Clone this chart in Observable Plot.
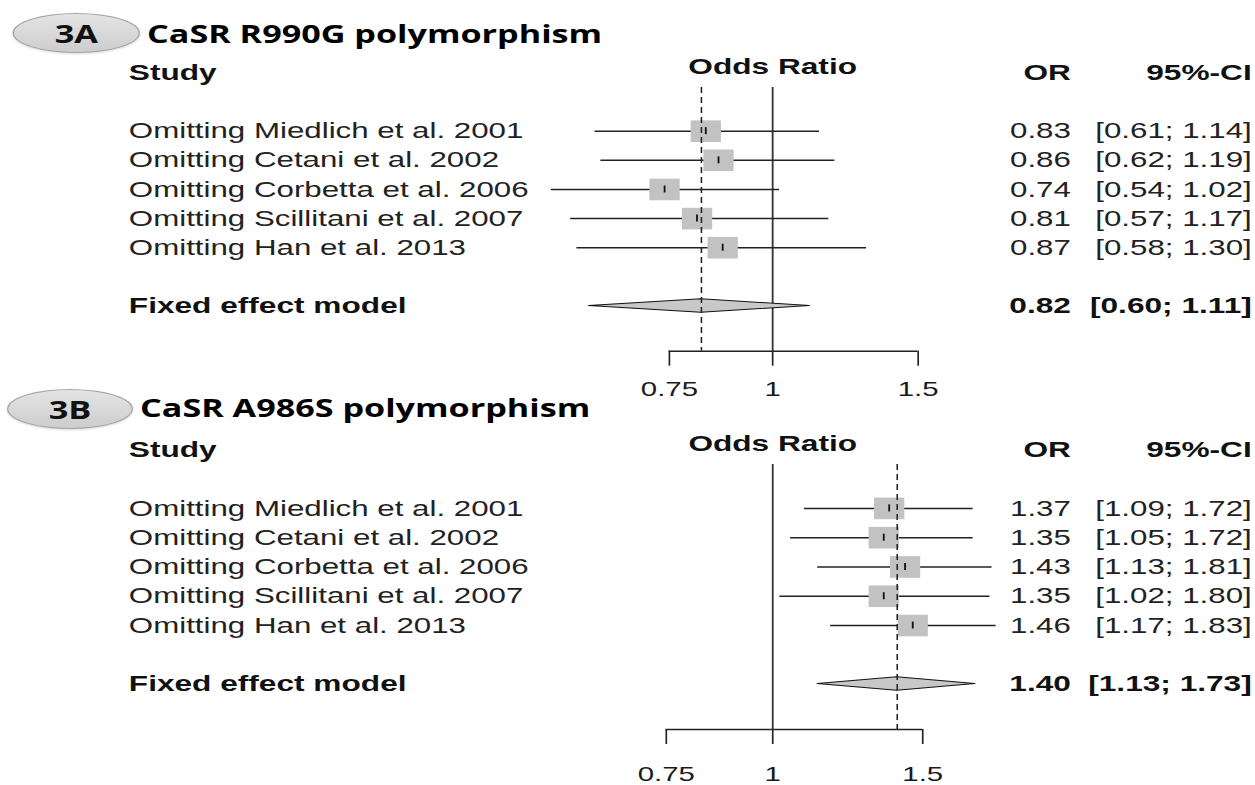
<!DOCTYPE html>
<html>
<head>
<meta charset="utf-8">
<script src="https://cdn.jsdelivr.net/npm/d3@7"></script>
<script src="https://cdn.jsdelivr.net/npm/@observablehq/plot@0.6"></script>
<style>
  html, body { margin: 0; padding: 0; background: #fff; }
  /* the reference picture is stretched horizontally by ~1.4 */
  #stage { position: relative; width: 896.43px; height: 785px; transform: scaleX(1.4); transform-origin: 0 0; overflow: visible; }
  .panel { position: absolute; left: 0; }
  .oval { position: absolute; border-radius: 50%; background: linear-gradient(#e4e4e4, #cdcdcd); border: 1.4px solid #a3a3a3; box-shadow: 0 1px 2px rgba(0,0,0,0.15);
          display: flex; align-items: center; justify-content: center; font-family: "Open Sans", sans-serif; font-weight: 700; font-size: 24.5px; color: #111; box-sizing: border-box; }
  .ttl { position: absolute; font-family: "Open Sans", sans-serif; font-weight: 700; font-size: 24.4px; line-height: 25px; color: #000; white-space: nowrap; }
</style>
</head>
<body>
<div id="stage">
  <div class="oval" style="left:9px; top:13px; width:91px; height:40px;">3A</div>
  <div class="ttl" style="left:105px; top:21px;">CaSR R990G polymorphism</div>
  <div id="panelA" class="panel" style="top:0px;"></div>
  <div class="oval" style="left:5px; top:389px; width:90px; height:40px;">3B</div>
  <div class="ttl" style="left:100px; top:395px;">CaSR A986S polymorphism</div>
  <div id="panelB" class="panel" style="top:400px;"></div>
</div>
<script>
// ---------- data ----------
const studies = [
  "Omitting Miedlich et al. 2001",
  "Omitting Cetani et al. 2002",
  "Omitting Corbetta et al. 2006",
  "Omitting Scillitani et al. 2007",
  "Omitting Han et al. 2013"
];
const fixedLabel = "Fixed effect model";

// 3A: CaSR R990G
const orA = [0.83, 0.86, 0.74, 0.81, 0.87];
const loA = [0.61, 0.62, 0.54, 0.57, 0.58];
const hiA = [1.14, 1.19, 1.02, 1.17, 1.30];
const fixedA = [0.82, 0.60, 1.11]; // OR, lower, upper

// 3B: CaSR A986S
const orB = [1.37, 1.35, 1.43, 1.35, 1.46];
const loB = [1.09, 1.05, 1.13, 1.02, 1.17];
const hiB = [1.72, 1.72, 1.81, 1.80, 1.83];
const fixedB = [1.40, 1.13, 1.73];

const axisTicks = [0.75, 1, 1.5];
const headers = { study: "Study", effect: "Odds Ratio", or: "OR", ci: "95%-CI" };

// ---------- drawing ----------
const W = 1255 / 1.4;
const FONT = "'Liberation Sans', Arial, Helvetica, sans-serif";
const fmt = d => d.toFixed(2);
const ciText = d => `[${fmt(d.lo)}; ${fmt(d.hi)}]`;

function forest({or, lo, hi, fixed, xDomain, height, marginTop, marginBottom, tickPadding}) {
  const rows = studies.map((name, i) => ({name, or: or[i], lo: lo[i], hi: hi[i], row: i + 1}));
  const fx = {name: fixedLabel, or: fixed[0], lo: fixed[1], hi: fixed[2], row: 7};
  const yTop = -0.5, yBot = 8.55, dh = 0.23;
  const diamond = [
    {x: fx.lo, y1: fx.row, y2: fx.row},
    {x: fx.or, y1: fx.row - dh, y2: fx.row + dh},
    {x: fx.hi, y1: fx.row, y2: fx.row}
  ];
  const leftDx = 91.5, orDx = -132, ciDx = -2.8;
  const reg = {fontSize: 22.35, lineAnchor: "middle", fill: "#222"};
  const bold = {fontSize: 22.6, lineAnchor: "middle", fontWeight: "bold", fill: "#111"};
  return Plot.plot({
    width: W, height, marginLeft: 0, marginRight: 0, marginTop, marginBottom,
    style: {fontFamily: FONT, fontSize: "22px", color: "#1a1a1a", background: "transparent", overflow: "visible"},
    x: {type: "log", domain: xDomain},
    y: {domain: [yTop, yBot], reverse: true, axis: null},
    marks: [
      Plot.ruleX([1], {y1: yTop, y2: yBot, stroke: "#333", strokeWidth: 1.3}),
      Plot.ruleY(rows, {x1: "lo", x2: "hi", y: "row", stroke: "#222", strokeWidth: 1.5}),
      Plot.dot(rows, {x: "or", y: "row", symbol: "square", r: 12.2, fill: "#c2c2c2", stroke: null}),
      Plot.ruleX(rows, {x: "or", y1: d => d.row - 0.12, y2: d => d.row + 0.12, stroke: "#111", strokeWidth: 1.3}),
      Plot.areaY(diamond, {x: "x", y1: "y1", y2: "y2", fill: "#c8c8c8", stroke: "#111", strokeWidth: 1}),
      Plot.ruleX([fx.or], {y1: yTop, y2: yBot, stroke: "#222", strokeWidth: 1.1, strokeDasharray: "6,4"}),
      Plot.ruleY([yBot], {x1: d3.min(axisTicks), x2: d3.max(axisTicks), stroke: "#222", strokeWidth: 1.4}),
      Plot.axisX(axisTicks, {anchor: "bottom", tickSize: 15, tickPadding, tickFormat: d => String(d), fontSize: 21, label: null, strokeWidth: 1.2, stroke: "#222"}),
      // headers
      Plot.text([headers.study], {text: d => d, frameAnchor: "top-left", textAnchor: "start", dx: leftDx, dy: -15, ...bold}),
      Plot.text([headers.effect], {text: d => d, x: () => 1, frameAnchor: "top", dy: -21, ...bold}),
      Plot.text([headers.or], {text: d => d, frameAnchor: "top-right", textAnchor: "end", dx: orDx, dy: -14.5, ...bold}),
      Plot.text([headers.ci], {text: d => d, frameAnchor: "top-right", textAnchor: "end", dx: ciDx, dy: -14.5, ...bold}),
      // study rows
      Plot.text(rows, {text: "name", y: "row", frameAnchor: "left", textAnchor: "start", dx: leftDx, ...reg}),
      Plot.text(rows, {text: d => fmt(d.or), y: "row", frameAnchor: "right", textAnchor: "end", dx: orDx, ...reg}),
      Plot.text(rows, {text: ciText, y: "row", frameAnchor: "right", textAnchor: "end", dx: ciDx, ...reg}),
      // fixed effect row
      Plot.text([fx], {text: "name", y: "row", frameAnchor: "left", textAnchor: "start", dx: leftDx, ...bold}),
      Plot.text([fx], {text: d => fmt(d.or), y: "row", frameAnchor: "right", textAnchor: "end", dx: orDx, ...bold}),
      Plot.text([fx], {text: ciText, y: "row", frameAnchor: "right", textAnchor: "end", dx: ciDx, ...bold})
    ]
  });
}

document.getElementById("panelA").append(forest({
  or: orA, lo: loA, hi: hiA, fixed: fixedA,
  xDomain: [0.1164, 3.841], height: 400, marginTop: 87, marginBottom: 49.3, tickPadding: 15
}));
document.getElementById("panelB").append(forest({
  or: orB, lo: loB, hi: hiB, fixed: fixedB,
  xDomain: [0.1241, 3.689], height: 385, marginTop: 64, marginBottom: 56, tickPadding: 22
}));
</script>
</body>
</html>
